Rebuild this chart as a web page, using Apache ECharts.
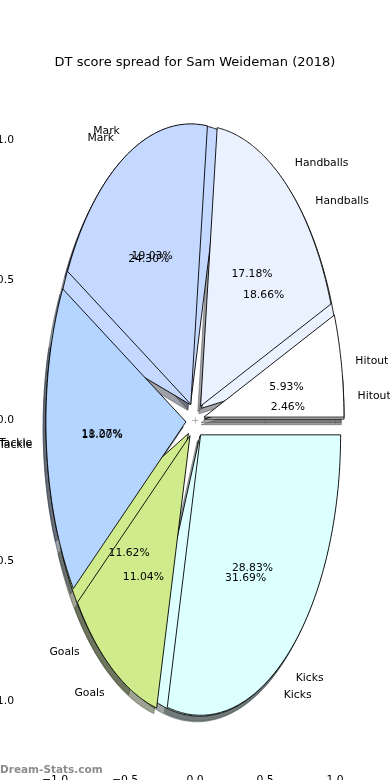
<!DOCTYPE html>
<html><head><meta charset="utf-8">
<script src="https://cdn.jsdelivr.net/npm/echarts@6/dist/echarts.min.js"></script>
<style>html,body{margin:0;padding:0;background:#fff}#c{width:390px;height:780px}</style>
</head><body><div id="c"></div>
<script>
const titleText = 'DT score spread for Sam Weideman (2018)';
const watermark = 'Dream-Stats.com';
const categories = ['Hitout', 'Handballs', 'Mark', 'Tackle', 'Goals', 'Kicks'];
const pieBottom = [2.46, 18.66, 24.30, 11.27, 11.62, 31.69];
const pieTop = [5.93, 17.18, 19.03, 18.00, 11.04, 28.83];
const tickValues = [-1.0, -0.5, 0.0, 0.5, 1.0];
const colors = ['#ffffff', '#eaf1ff', '#c5d8ff', '#b4d5ff', '#d0eb8b', '#dcffff'];

const EXPLODE = 0.065, SH = -0.02, FONT = 'DejaVu Sans';

function wedges(values, pieIdx) {
  const tot = values.reduce((a, b) => a + b, 0);
  let cum = 0; const out = [];
  values.forEach((v, i) => {
    const s = cum / tot * 360; cum += v; const e = cum / tot * 360;
    out.push({ value: [s, e, v / tot * 100, i, pieIdx] });
  });
  return out;
}
const dataBottom = wedges(pieBottom, 0);
const dataTop = wedges(pieTop, 1);

function pts(api, s, e, ox, oy) {
  const m = (s + e) / 2 * Math.PI / 180;
  const cx = EXPLODE * Math.cos(m) + ox, cy = EXPLODE * Math.sin(m) + oy;
  const p = [api.coord([cx, cy])];
  const n = Math.max(2, Math.ceil((e - s) * 2));
  for (let k = 0; k <= n; k++) {
    const a = (s + (e - s) * k / n) * Math.PI / 180;
    p.push(api.coord([cx + Math.cos(a), cy + Math.sin(a)]));
  }
  return p;
}
function hexRgb(h) { return [1, 3, 5].map(i => parseInt(h.substr(i, 2), 16)); }

function shadowItem(params, api) {
  const s = api.value(0), e = api.value(1), ci = api.value(3);
  const c = hexRgb(colors[ci]).map(x => Math.round(x * 0.3));
  const col = 'rgba(' + c.join(',') + ',0.5)';
  return { type: 'polygon', shape: { points: pts(api, s, e, SH, SH) },
    style: { fill: col, stroke: col, lineWidth: 1 } };
}
function wedgeItem(params, api) {
  const s = api.value(0), e = api.value(1), ci = api.value(3);
  return { type: 'polygon', shape: { points: pts(api, s, e, 0, 0) },
    style: { fill: colors[ci], stroke: '#000', lineWidth: 0.9, lineJoin: 'miter', miterLimit: 20 } };
}
function textItem(params, api) {
  const s = api.value(0), e = api.value(1), pct = api.value(2), ci = api.value(3);
  const m = (s + e) / 2 * Math.PI / 180;
  const c = Math.cos(m), sn = Math.sin(m);
  const lp = api.coord([(1.1 + EXPLODE) * c, (1.1 + EXPLODE) * sn]);
  const pp = api.coord([(0.6 + EXPLODE) * c, (0.6 + EXPLODE) * sn]);
  return { type: 'group', children: [
    { type: 'text', x: lp[0], y: lp[1] + 1, style: { text: categories[ci], fill: '#000', fontSize: 10.8, fontFamily: FONT,
      align: c > 0 ? 'left' : 'right', verticalAlign: 'middle' } },
    { type: 'text', x: pp[0], y: pp[1] + 1, style: { text: pct.toFixed(2) + '%', fill: '#000', fontSize: 10.8, fontFamily: FONT,
      align: 'center', verticalAlign: 'middle' } }
  ] };
}
const fmt = v => (v < 0 ? '\u2212' : '') + Math.abs(v).toFixed(1);
const tick = { show: true, inside: true, length: 3, customValues: tickValues, lineStyle: { color: '#b0b0b0', width: 1 } };
function axis(pos, showLabel, isX) {
  return { type: 'value', min: -1.25, max: 1.25, position: pos,
    axisLine: { show: false }, splitLine: { show: false }, axisTick: tick,
    axisLabel: { show: showLabel, customValues: tickValues, formatter: fmt, margin: isX ? 4 : 6,
      hideOverlap: false, color: '#000', fontSize: 10.8, fontFamily: FONT } };
}
const chart = echarts.init(document.getElementById('c'), null, { renderer: 'canvas' });
chart.setOption({
  animation: false,
  backgroundColor: '#fff',
  title: { text: titleText, left: 'center', top: 51,
    textStyle: { fontSize: 13, fontWeight: 'normal', color: '#000', fontFamily: FONT } },
  grid: { left: 20, right: 20, top: 70, bottom: 9, containLabel: false, outerBoundsMode: 'none' },
  xAxis: [axis('bottom', true, true), axis('top', false, true)],
  yAxis: [axis('left', true, false), axis('right', false, false)],
  graphic: [{ type: 'text', left: 0, top: 765, z: 100,
    style: { text: watermark, font: 'bold 10.5px "DejaVu Sans"', fill: 'rgba(120,120,120,0.85)' } }],
  series: [
    { type: 'custom', z: 1, renderItem: shadowItem, data: dataBottom.concat(dataTop), silent: true },
    { type: 'custom', z: 2, renderItem: wedgeItem, data: dataBottom, silent: true },
    { type: 'custom', z: 3, renderItem: wedgeItem, data: dataTop, silent: true },
    { type: 'custom', z: 4, renderItem: textItem, data: dataBottom.concat(dataTop), silent: true }
  ]
});
</script></body></html>
